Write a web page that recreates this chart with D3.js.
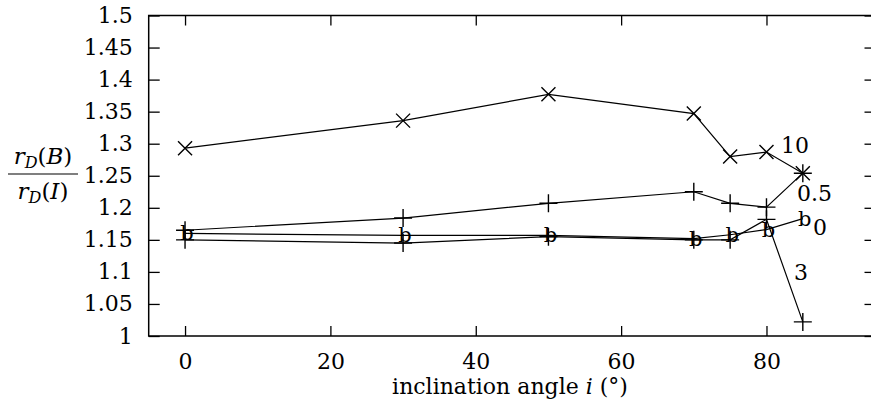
<!DOCTYPE html>
<html>
<head>
<meta charset="utf-8">
<script src="https://cdnjs.cloudflare.com/ajax/libs/d3/7.8.5/d3.min.js"></script>
<style>
body{margin:0;background:#fff}
svg{display:block}
</style>
</head>
<body>
<svg></svg>
<script>
// inclination angles (deg)
var angles = [0, 30, 50, 70, 75, 80, 85]
// ratio r_D(B)/r_D(I) for each curve
var s10  = [1.293, 1.336, 1.377, 1.347, 1.280, 1.287, 1.254]
var s05  = [1.165, 1.184, 1.207, 1.225, 1.207, 1.201, 1.254]
var s0   = [1.160, 1.157, 1.157, 1.152, 1.158, 1.166, 1.183]
var s3   = [1.150, 1.145, 1.155, 1.150, 1.150, 1.182, 1.022]
var xTicks = [0, 20, 40, 60, 80]
var yTicks = [1, 1.05, 1.1, 1.15, 1.2, 1.25, 1.3, 1.35, 1.4, 1.45, 1.5]
var labels = [
  {text:"10",  x:82.0, y:1.298},
  {text:"0.5", x:84.2, y:1.223},
  {text:"0",   x:86.4, y:1.170},
  {text:"3",   x:83.8, y:1.100}
]

var FONT = "'DejaVu Serif', 'Liberation Serif', serif"
var screen = {width:871, height:402}
var svg = d3.select("svg")
  .attr("width", screen.width)
  .attr("height", screen.height)

var xScale = d3.scaleLinear().domain([-5, 95]).range([148.7, 875.5])
var yScale = d3.scaleLinear().domain([1, 1.5]).range([336, 15.5])

var toPts = function(vals){
  return vals.map(function(v, i){ return {x:angles[i], y:v} })
}
var line = d3.line()
  .x(function(d){ return xScale(d.x) })
  .y(function(d){ return yScale(d.y) })

// axes with inward ticks, gnuplot style
var fmt = function(d){ return String(+d.toFixed(2)) }
svg.append("g")
  .attr("transform", "translate(" + xScale(-5) + ",0)")
  .call(d3.axisLeft(yScale).tickValues(yTicks).tickSize(-11).tickPadding(16).tickFormat(fmt))
svg.append("g")
  .attr("transform", "translate(" + xScale(95) + ",0)")
  .call(d3.axisRight(yScale).tickValues(yTicks).tickSize(-11).tickFormat(""))
svg.append("g")
  .attr("transform", "translate(0," + yScale(1) + ")")
  .call(d3.axisBottom(xScale).tickValues(xTicks).tickSize(-10).tickPadding(17).tickFormat(d3.format("d")))
svg.append("g")
  .attr("transform", "translate(0," + yScale(1.5) + ")")
  .call(d3.axisTop(xScale).tickValues(xTicks).tickSize(-10).tickFormat(""))
svg.selectAll(".domain").remove()
svg.selectAll(".tick line").attr("stroke", "#000").attr("stroke-width", 1.3)
svg.selectAll(".tick text").attr("font-size", null).attr("font-family", null)
  .style("font-size", "22px").style("font-family", FONT).style("fill", "#000")

svg.append("rect")
  .attr("x", xScale(-5)).attr("y", yScale(1.5))
  .attr("width", xScale(95) - xScale(-5))
  .attr("height", yScale(1) - yScale(1.5))
  .attr("fill", "none").attr("stroke", "#000").attr("stroke-width", 1.5)

// curves
var series = [s3, s0, s05, s10]
svg.selectAll("path.curve")
  .data(series)
  .enter()
  .append("path")
  .attr("class", "curve")
  .attr("d", function(d){ return line(toPts(d)) })
  .attr("fill", "none")
  .attr("stroke", "#000")
  .attr("stroke-width", 1.2)

// x markers
svg.selectAll("path.cross")
  .data(toPts(s10))
  .enter()
  .append("path")
  .attr("class", "cross")
  .attr("d", "M-7,-7L7,7M-7,7L7,-7")
  .attr("transform", function(d){ return "translate(" + xScale(d.x) + "," + yScale(d.y) + ")" })
  .attr("stroke", "#000").attr("stroke-width", 1.4)

// + markers
svg.selectAll("path.plus")
  .data(toPts(s05).concat(toPts(s3)))
  .enter()
  .append("path")
  .attr("class", "plus")
  .attr("d", "M-9,0H9M0,-9V9")
  .attr("transform", function(d){ return "translate(" + xScale(d.x) + "," + yScale(d.y) + ")" })
  .attr("stroke", "#000").attr("stroke-width", 1.4)

// b-shaped markers
svg.selectAll("text.bmark")
  .data(toPts(s0))
  .enter()
  .append("text")
  .attr("class", "bmark")
  .attr("x", function(d){ return xScale(d.x) + 2 })
  .attr("y", function(d){ return yScale(d.y) + 7 })
  .attr("text-anchor", "middle")
  .style("font-family", FONT)
  .style("font-size", "21px")
  .text("b")

// curve labels
svg.selectAll("text.lab")
  .data(labels)
  .enter()
  .append("text")
  .attr("class", "lab")
  .attr("x", function(d){ return xScale(d.x) })
  .attr("y", function(d){ return yScale(d.y) })
  .attr("dy", "0.35em")
  .style("font-family", FONT)
  .style("font-size", "22px")
  .text(function(d){ return d.text })

// axis titles
var xt = svg.append("text")
  .attr("x", 510).attr("y", 394)
  .attr("text-anchor", "middle")
  .style("font-family", FONT)
  .style("font-size", "22px")
xt.append("tspan").text("inclination angle ")
xt.append("tspan").style("font-style", "italic").text("i")
xt.append("tspan").text(" (°)")

var frac = function(y, letter){
  var t = svg.append("text").attr("x", 43).attr("y", y)
    .attr("text-anchor", "middle")
    .style("font-family", FONT)
    .style("font-size", "23px")
  t.append("tspan").style("font-style", "italic").text("r")
  t.append("tspan").style("font-style", "italic").style("font-size", "16px").attr("dy", 4).text("D")
  t.append("tspan").attr("dy", -4).text("(")
  t.append("tspan").style("font-style", "italic").text(letter)
  t.append("tspan").text(")")
}
frac(164, "B")
frac(199, "I")
svg.append("line")
  .attr("x1", 8).attr("x2", 78).attr("y1", 174).attr("y2", 174)
  .attr("stroke", "#000").attr("stroke-width", 1.2)
</script>
</body>
</html>
